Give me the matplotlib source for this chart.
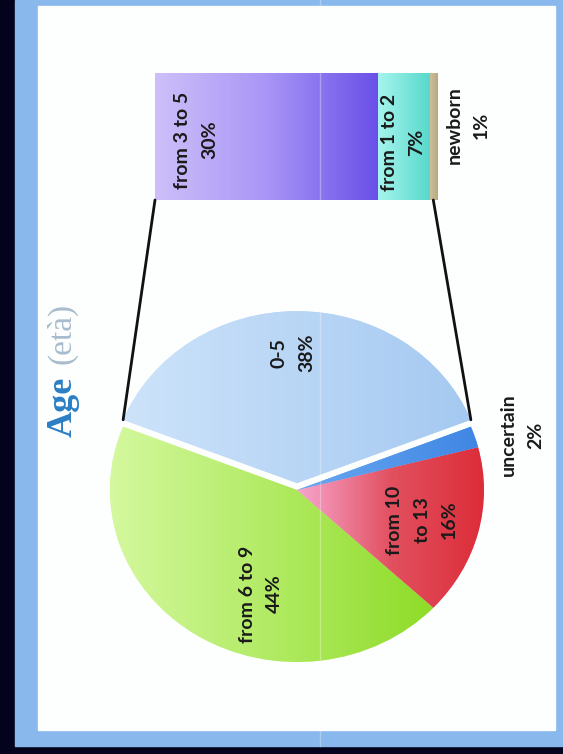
import numpy as np
import matplotlib
matplotlib.use('Agg')
import matplotlib.pyplot as plt
from matplotlib.patches import Rectangle, ConnectionPatch
from matplotlib.colors import LinearSegmentedColormap

# ---------------- data ----------------
pie_labels = ["0-5", "from 6 to 9", "from 10\nto 13", "uncertain"]
pie_values = [38, 44, 16, 2]
bar_labels = ["from 3 to 5", "from 1 to 2", "newborn"]
bar_values = [30, 7, 1]
title_main = "Age"
title_sub = "(età)"

# ---------------- styles / layout ----------------
pie_grad = [['#cde3fa', '#a5c9f1'],
            ['#d5f9a0', '#8edc28'],
            ['#f7a6cf', '#e2505f', '#dc2c38'],
            ['#6aa8f0', '#3f86e4']]
bar_grad = [['#cdbff9', '#a996f6', '#6a50e8'],
            ['#a6f5ee', '#58d8cc'],
            ['#cdbf9c', '#b8a880']]
pie_label_px = [(293, 353), (261, 594), (422, 520), (522, 435)]
bar_label_px = [(196, 140), (403, 142), (468, 125)]

W, H = 563, 754
fig = plt.figure(figsize=(W / 100, H / 100), dpi=100)
fig.patch.set_facecolor('#03031d')

bg = fig.add_axes([0, 0, 1, 1])
bg.set_xlim(0, W)
bg.set_ylim(H, 0)
bg.axis('off')
bg.add_patch(Rectangle((15, 0), 548, 746, color='#88b8ec', zorder=0))
bg.add_patch(Rectangle((38, 6), 517, 724, color='#fdfefe', zorder=1))


def px_axes(x0, y0, x1, y1):
    a = fig.add_axes([x0 / W, 1 - y1 / H, (x1 - x0) / W, (y1 - y0) / H])
    a.axis('off')
    return a


def grad_fill(ax, patch, colors, x0, x1, y0, y1):
    cmap = LinearSegmentedColormap.from_list('g', colors)
    arr = np.linspace(0, 1, 256).reshape(1, -1)
    im = ax.imshow(arr, cmap=cmap, extent=[x0, x1, y0, y1], aspect='auto',
                   zorder=patch.get_zorder() + 0.1, interpolation='bilinear')
    im.set_clip_path(patch)


# ---------------- pie ----------------
cx, cy, rx, ry, L = 297, 490, 187, 172, 1.3
pax = px_axes(cx - L * rx, cy - L * ry, cx + L * rx, cy + L * ry)
explode = [0.04, 0, 0, 0]
wedges, _ = pax.pie(pie_values, startangle=90 - pie_values[0] * 3.6 / 2,
                    explode=explode, counterclock=True,
                    colors=[g[0] for g in pie_grad],
                    wedgeprops=dict(linewidth=0))
pax.set_aspect('auto')
for w, g in zip(wedges, pie_grad):
    xs = w.get_path().vertices[:, 0] * w.r + w.center[0]
    grad_fill(pax, w, g, xs.min(), xs.max(), -1.2, 1.2)
pax.set_xlim(-L, L)
pax.set_ylim(-L, L)

# ---------------- bar ----------------
bax = px_axes(155, 73, 437, 200)
lefts = np.concatenate([[0], np.cumsum(bar_values)[:-1]])
bars = bax.barh([0] * len(bar_values), bar_values, left=lefts, height=1,
                color=[g[0] for g in bar_grad], linewidth=0)
for b, g, l, v in zip(bars, bar_grad, lefts, bar_values):
    grad_fill(bax, b, g, l, l + v, -0.5, 0.5)
bax.set_xlim(0, sum(bar_values))
bax.set_ylim(-0.5, 0.5)

# ---------------- connector lines ----------------
w0 = wedges[0]
for ang, bx in [(w0.theta2, 0), (w0.theta1, sum(bar_values) - 0.5)]:
    px = w0.center[0] + w0.r * np.cos(np.radians(ang))
    py = w0.center[1] + w0.r * np.sin(np.radians(ang))
    con = ConnectionPatch(xyA=(bx, -0.5), coordsA=bax.transData,
                          xyB=(px, py), coordsB=pax.transData,
                          color='#111111', lw=2.0, zorder=5)
    fig.add_artist(con)

# ---------------- text overlay ----------------
tax = fig.add_axes([0, 0, 1, 1])
tax.set_xlim(0, W)
tax.set_ylim(H, 0)
tax.axis('off')
tax.patch.set_alpha(0)

lab_kw = dict(rotation=90, ha='center', va='center', multialignment='center',
              fontsize=14, fontweight='bold', family='Lato', color='#1a1a1a',
              linespacing=1.75, zorder=10)
for lab, v, (x, y) in zip(pie_labels, pie_values, pie_label_px):
    tax.text(x, y, f"{lab}\n{v}%", **lab_kw)
for lab, v, (x, y) in zip(bar_labels, bar_values, bar_label_px):
    tax.text(x, y, f"{lab}\n{v}%", **lab_kw)

tax.text(63, 407, title_main, rotation=90, ha='center', va='center',
         fontsize=26, fontweight='bold', family='Liberation Serif',
         color='#2b7fc4', zorder=10)
tax.text(62, 333, title_sub, rotation=90, ha='center', va='center',
         fontsize=24, family='Liberation Serif', color='#a8bccd', zorder=10)

# photo seam
tax.plot([320, 320], [0, 746], color='white', alpha=0.3, lw=1, zorder=20)

fig.savefig('out.png', dpi=100, facecolor=fig.get_facecolor())
